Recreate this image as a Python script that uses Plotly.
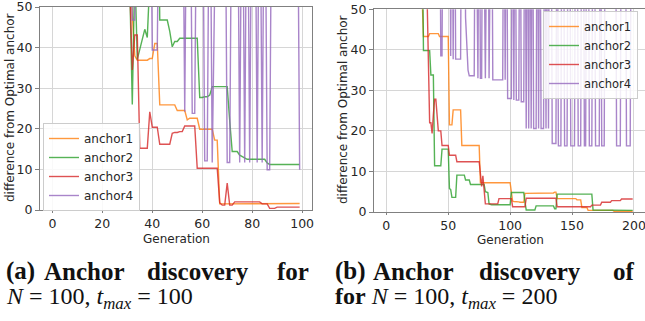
import plotly.graph_objects as go

# ---------------- data ----------------
# Left panel: generations 30..99   (99 = value above the visible range)
GEN_START_A = 30
A1_a = [99, 60, 48, 38,
        36.9, 36.9, 36.9, 36.9, 36.9,
        37.3, 37.3, 41.0, 41.0,
        25.9, 25.9, 25.9, 25.9, 25.9, 25.9, 25.9,
        24.5, 24.5, 24.5, 24.5,
        22.2, 22.6, 22.6, 22.6, 22.6,
        19.9, 19.9, 19.9, 19.9, 19.9, 19.9,
        17.2, 17.2,
        1.5, 1.5, 1.5, 1.5, 1.5, 1.5, 1.5, 1.5, 1.5, 1.5,
        1.5, 1.5, 1.5, 1.5, 1.5, 1.5, 1.5, 1.5, 1.5,
        1.6, 1.6, 1.6, 1.6, 1.6, 1.6, 1.6, 1.6, 1.6, 1.6, 1.6, 1.6, 1.6, 1.6]
A2_a = [99, 55, 26, 60, 37.1, 39.5, 41.9, 44.5, 42.5, 99,
        99, 99, 99,
        46.8, 46.8, 46.8, 46.8,
        44.0, 40.2, 41.5, 41.5,
        42.3, 42.3, 42.3, 42.3, 42.3, 42.3, 42.3, 42.3,
        27.7, 27.7, 27.9, 27.9, 28.3,
        30.4, 30.4, 30.4, 30.4, 30.4, 30.4, 30.4,
        22.0, 14.4, 14.4, 14.4,
        13.5, 13.1, 12.8,
        12.5, 12.5, 12.5, 12.5, 12.5, 12.5, 12.5, 12.5,
        11.6,
        11.2, 11.2, 11.2, 11.2, 11.2, 11.2, 11.2, 11.2, 11.2, 11.2, 11.2, 11.2, 11.2]
A3_a = [99, 55, 34.5, 43.1, 43.1,
        15.2, 15.2, 15.2, 15.2,
        24.2, 20.4, 20.4, 20.4,
        16.2, 16.2, 16.2, 16.2, 16.2,
        18.9, 19.1, 19.1, 19.3, 19.3,
        20.7, 20.7, 20.7, 20.7, 20.7,
        10.3, 10.3, 10.3, 10.3, 10.3, 10.3, 10.3, 10.3, 10.3,
        1.8, 1.2, 1.2, 6.6, 1.2, 1.2,
        2.0, 2.0, 2.0, 2.0, 2.0, 2.0, 2.0, 2.0, 2.0, 2.0, 2.0,
        1.5, 1.5, 1.5,
        0.4, 0.4, 0.4,
        0.7, 0.7, 0.7, 0.7, 0.7, 0.7, 0.7, 0.7, 0.7, 0.7]
A4_a = [99, 99, 46.8, 46.8, 99, 99, 99, 99, 99, 99,
        39.4, 39.4, 39.4,
        99, 99, 99, 99, 99, 99, 99, 99, 99, 99,
        24.2, 99, 99, 23.8, 23.8, 99, 99, 99,
        12.1, 12.1, 99, 11.7, 99, 99, 99, 99, 99,
        11.7, 11.7, 99, 99, 99, 11.7, 99, 11.7, 99, 11.7,
        99, 99, 11.7, 99, 11.7, 99, 9.9, 9.9,
        99, 99, 99, 99, 99, 99, 99, 99, 99, 99, 99,
        9.9]

# Right panel: generations 28..199
GEN_START_B = 28
A1_b = [99, 52,
        43.3, 43.3, 43.3, 43.3, 43.3, 44, 44, 44, 44, 44,
        44, 44, 44, 43.3, 43.3, 43.3, 43.3, 43.3, 43.3, 43.3,
        43.3, 21.5, 21.5, 21.5, 25.2, 25.2, 25.2, 25.2, 25.2, 25.2,
        25.2, 16.4, 16.4, 16.4, 16.4, 16.4, 16.4, 16.4, 16.4, 16.4,
        16.4, 16.4, 16.4, 16.4, 16.4, 16.4, 7.2, 7.2, 7.2, 7.2,
        7.2, 7.2, 7.2, 7.2, 7.2, 7.2, 7.2, 7.2, 7.2, 7.2,
        7.2, 7.2, 7.2, 7.2, 7.2, 7.2, 7.2, 7.2, 7.2, 7.2,
        7.2, 5.0, 2.7, 2.6, 2.6, 2.5, 2.5, 2.5, 2.4, 2.4,
        2.4, 2.4, 4.6, 4.6, 4.6, 4.6, 4.6, 4.6, 4.6, 4.6,
        4.6, 4.6, 4.6, 4.6, 4.6, 4.6, 4.6, 4.6, 4.6, 4.6,
        4.7, 4.7, 4.7, 4.7, 4.7, 4.7, 4.9, 4.9, 3.3, 3.3,
        3.3, 3.3, 3.3, 3.3, 3.3, 3.3, 3.3, 3.3, 3.3, 3.3,
        3.3, 3.3, 3.3, 3.3, 3.0, 3.0, 3.0, 3.0, 1.1, 1.1,
        1.1, 1.1, 1.1, 0.4, 0.4, 0.4, 0.4, 0.4, 0.4, 0.4,
        0.4, 0.4, 0.4, 0.4, 0.4, 0.4, 0.4, 0.4, 0.4, 0.4,
        0.4, 0.4, 0.4, 0.4, 0.2, 0.2, 0.2, 0.2, 0.2, 0.2,
        0.2, 0.2, 0.2, 0.2, 0.2, 0.2, 0.2, 0.2, 0.2, 0.2]
A2_b = [99, 60,
        39.8, 39.8, 39.8, 39.8, 39.8, 39.8, 33.8, 33.8, 33.8, 11.4,
        11.4, 11.4, 11.4, 11.4, 11.4, 15.5, 15.5, 15.5, 15.5, 15.5,
        15.5, 5.8, 5.5, 3.6, 3.6, 3.6, 3.6, 9.1, 9.1, 9.1,
        9.1, 9.1, 9.1, 9.1, 7.9, 7.9, 7.9, 7.9, 6.8, 6.8,
        6.8, 6.8, 6.8, 6.8, 6.8, 6.8, 6.8, 6.8, 6.8, 6.8,
        5.0, 4.8, 4.8, 2.0, 1.8, 1.8, 1.8, 1.8, 1.8, 1.8,
        1.8, 1.8, 1.8, 1.8, 1.8, 1.8, 1.8, 1.8, 1.8, 1.8,
        1.8, 4.8, 4.8, 4.8, 4.8, 4.8, 4.8, 4.8, 4.8, 4.8,
        4.8, 4.8, 2.5, 0.5, 0.5, 0.5, 0.5, 0.5, 0.5, 0.5,
        0.5, 1.5, 1.5, 1.5, 1.5, 1.5, 1.5, 1.5, 1.5, 1.5,
        1.5, 1.5, 1.5, 1.5, 1.5, 1.5, 0.8, 0.8, 4.4, 4.4,
        4.4, 4.4, 4.4, 4.4, 4.4, 4.4, 4.4, 4.4, 4.4, 4.4,
        4.4, 4.4, 4.4, 4.4, 4.4, 4.4, 4.4, 4.4, 4.4, 4.4,
        4.4, 4.4, 4.4, 4.4, 4.4, 4.4, 4.4, 0.5, 0.5, 0.5,
        0.5, 0.5, 0.5, 0.5, 0.5, 0.5, 0.5, 0.5, 0.5, 0.5,
        0.5, 0.5, 0.5, 0.5, 0.5, 0.5, 0.5, 0.5, 0.5, 0.5,
        0.4, 0.4, 0.4, 0.4, 0.4, 0.4, 0.4, 0.4, 0.4, 0.4]
A3_b = [99, 99,
        99, 99, 99, 52, 37, 22, 22, 19.4, 24, 27.8,
        27.8, 23, 20, 20, 20, 16.4, 16.4, 16.4, 16.4, 16.4,
        16.4, 14, 14, 14, 14, 14, 14, 12.4, 12.4, 12.4,
        12.4, 12.4, 12.4, 12.4, 12.4, 12.4, 12.4, 12.4, 12.4, 12.4,
        12.4, 12.4, 12.4, 12.4, 12.4, 12.4, 9.5, 6.3, 8.9, 5.0,
        2.0, 2.0, 2.0, 2.0, 2.0, 2.0, 2.0, 2.0, 2.0, 2.0,
        2.0, 3.3, 3.3, 3.3, 3.3, 3.3, 3.3, 3.3, 3.3, 3.3,
        3.3, 3.3, 1.3, 1.3, 1.3, 1.3, 1.3, 1.3, 1.3, 1.3,
        1.3, 1.3, 1.3, 3.4, 3.4, 3.4, 3.4, 3.4, 3.4, 3.4,
        3.4, 3.4, 3.4, 3.4, 3.4, 3.4, 3.4, 3.4, 3.4, 3.4,
        3.4, 3.4, 3.4, 3.4, 3.4, 3.4, 3.4, 3.4, 1.3, 1.3,
        1.3, 1.3, 1.3, 1.3, 1.3, 1.3, 1.3, 1.3, 1.3, 1.3,
        1.3, 1.3, 1.3, 1.3, 1.3, 1.3, 1.3, 1.3, 1.3, 1.3,
        1.3, 1.3, 1.3, 1.3, 1.3, 1.3, 1.7, 1.7, 1.7, 1.7,
        1.7, 1.7, 1.7, 1.7, 2.4, 2.4, 2.4, 2.4, 2.4, 2.4,
        2.4, 2.4, 2.8, 2.8, 2.8, 2.8, 2.8, 2.8, 2.8, 2.8,
        3.2, 3.2, 3.2, 3.2, 3.2, 3.2, 3.2, 3.2, 3.2, 3.2]
A4_b = [99, 99,
        99, 99, 99, 99, 99, 99, 99, 99, 99, 99,
        99, 99, 99, 99, 38.5, 38.5, 99, 99, 99, 99,
        99, 99, 38.5, 99, 37.7, 99, 37.7, 37.7, 37.7, 37.7,
        37.7, 99, 99, 99, 48, 40, 35, 33.6, 33.6, 33.6,
        33.6, 33.6, 99, 99, 33, 99, 33, 33, 99, 99,
        33, 99, 99, 33, 99, 99, 32.6, 32.6, 32.6, 32.6,
        32.6, 32.6, 32.6, 32.6, 32.6, 99, 32.6, 99, 28, 28,
        28, 28, 99, 27.6, 99, 27.6, 27.6, 27.6, 99, 27.2,
        27.2, 27.2, 99, 20.6, 99, 20.6, 99, 20.6, 99, 20.6,
        20.6, 20.6, 99, 20.6, 99, 20.6, 20.6, 20.6, 99, 20.6,
        99, 20.6, 99, 99, 16.9, 16.9, 16.9, 16.9, 99, 16.3,
        16.3, 16.3, 99, 99, 16.3, 16.3, 16.3, 99, 99, 16.3,
        16.3, 16.3, 16.3, 99, 99, 16.3, 16.3, 16.3, 99, 99,
        16.3, 16.3, 99, 99, 16.3, 16.3, 16.3, 99, 99, 16.3,
        16.3, 16.3, 16.3, 99, 16.3, 16.3, 16.3, 99, 99, 99,
        99, 99, 99, 99, 99, 99, 16.3, 16.3, 16.3, 16.3,
        99, 99, 99, 99, 16.3, 16.3, 16.3, 16.3, 99, 99]

NAMES = ["anchor1", "anchor2", "anchor3", "anchor4"]
COLORS = ["#ff7f0e", "#2ca02c", "#d62728", "#9467bd"]
Y_TICKS = [0, 10, 20, 30, 40, 50]
X_TICKS_A = [0, 20, 40, 60, 80, 100]
X_TICKS_B = [0, 50, 100, 150, 200]
X_TITLE = "Generation"
Y_TITLE = "difference from Optimal anchor"

W, H = 645, 321

fig = go.Figure()

series_a = [A1_a, A2_a, A3_a, A4_a]
series_b = [A1_b, A2_b, A3_b, A4_b]
for name, col, ya in zip(NAMES, COLORS, series_a):
    xs = list(range(GEN_START_A, GEN_START_A + len(ya)))
    fig.add_trace(go.Scatter(x=xs, y=ya, mode="lines", name=name,
                             line=dict(color=col, width=1.4), opacity=0.8,
                             xaxis="x", yaxis="y", legend="legend"))
for name, col, yb in zip(NAMES, COLORS, series_b):
    xs = list(range(GEN_START_B, GEN_START_B + len(yb)))
    fig.add_trace(go.Scatter(x=xs, y=yb, mode="lines", name=name,
                             line=dict(color=col, width=1.4), opacity=0.8,
                             xaxis="x2", yaxis="y2", legend="legend2"))

def px_x(p):
    return p / W

def px_y(p):
    return 1 - p / H

axis_common = dict(showline=True, mirror=True, linecolor="#808080", linewidth=1,
                   showgrid=True, gridcolor="#d6d6d6", gridwidth=1,
                   ticks="outside", tickcolor="#808080",
                   tickfont=dict(family="DejaVu Sans", size=12.5, color="#262626"),
                   ticklabeloverflow="allow",
                   zeroline=False, automargin=False)
title_font = dict(family="DejaVu Sans", size=12, color="#262626")

fig.update_layout(
    width=W, height=H,
    margin=dict(l=0, r=0, t=0, b=0),
    paper_bgcolor="white", plot_bgcolor="white",
    xaxis=dict(domain=[px_x(40), px_x(312)], range=[-4.95, 103.95],
               tickvals=X_TICKS_A, anchor="y", ticklen=2, **axis_common),
    yaxis=dict(domain=[px_y(210), px_y(7)], range=[0, 50], tickvals=Y_TICKS,
               anchor="x", ticklen=4, **axis_common),
    xaxis2=dict(domain=[px_x(374), 1.0], range=[-9.95, 208.95],
                tickvals=X_TICKS_B, anchor="y2", ticklen=2, **axis_common),
    yaxis2=dict(domain=[px_y(212), px_y(9.3)], range=[0, 50], tickvals=Y_TICKS,
                anchor="x2", ticklen=4, **axis_common),
    legend=dict(x=px_x(43), y=px_y(123), xanchor="left", yanchor="top",
                bgcolor="rgba(255,255,255,0.85)", bordercolor="#cccccc", borderwidth=1,
                font=dict(family="DejaVu Sans", size=12, color="#262626")),
    legend2=dict(x=px_x(543), y=px_y(11), xanchor="left", yanchor="top",
                 bgcolor="rgba(255,255,255,0.85)", bordercolor="#cccccc", borderwidth=1,
                 font=dict(family="DejaVu Sans", size=11.5, color="#262626")),
)

annos = []
# axis titles
for x, y in [(176, 239), (510, 240)]:
    annos.append(dict(text=X_TITLE, x=px_x(x), y=px_y(y), xref="paper", yref="paper",
                      xanchor="center", yanchor="middle", showarrow=False, font=title_font))
for x, y in [(10, 108), (343, 110)]:
    annos.append(dict(text=Y_TITLE, x=px_x(x), y=px_y(y), xref="paper", yref="paper",
                      xanchor="center", yanchor="middle", textangle=-90,
                      showarrow=False, font=title_font))

cap_font = dict(family="Liberation Serif", size=25, color="#111111")
cap_font2 = dict(family="Liberation Serif", size=24, color="#111111")
# caption line 1 words (justified in the original)
for word, x in [("(a)", 4), ("Anchor", 42), ("discovery", 145), ("for", 275),
                ("(b)", 333), ("Anchor", 371), ("discovery", 477), ("of", 611)]:
    annos.append(dict(text="<b>%s</b>" % word, x=px_x(x), y=px_y(271),
                      xref="paper", yref="paper", xanchor="left", yanchor="middle",
                      showarrow=False, font=cap_font))
annos.append(dict(text="<i>N</i> = 100, <i>t</i><sub><i>max</i></sub> = 100",
                  x=px_x(4), y=px_y(298), xref="paper", yref="paper",
                  xanchor="left", yanchor="middle", showarrow=False, font=cap_font2))
annos.append(dict(text="<b>for</b> <i>N</i> = 100, <i>t</i><sub><i>max</i></sub> = 200",
                  x=px_x(333), y=px_y(298), xref="paper", yref="paper",
                  xanchor="left", yanchor="middle", showarrow=False, font=cap_font2))
fig.update_layout(annotations=annos)

fig.write_html("out.html", config={"displayModeBar": False},
               post_script="document.body.style.margin='0px';document.body.style.padding='0px';"
                           "document.body.style.overflow='hidden';")
